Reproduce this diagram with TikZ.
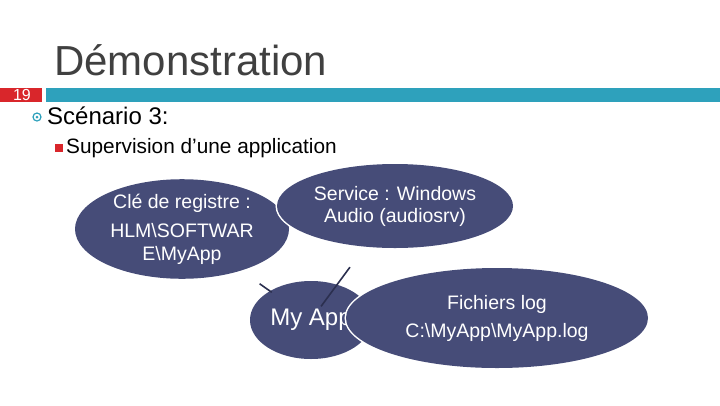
\documentclass[tikz,border=0pt]{standalone}
\usepackage{fontspec}
\setmainfont{Liberation Sans}
\usetikzlibrary{shapes.geometric,positioning}
\definecolor{titlegray}{HTML}{404040}
\definecolor{barteal}{HTML}{2EA1BC}
\definecolor{numred}{HTML}{D9262B}
\definecolor{bubblenavy}{HTML}{464C78}
\definecolor{linknavy}{HTML}{2B2F4F}
\newcommand{\fs}[2]{\fontsize{#1}{#2}\selectfont}
\tikzset{
  bubble/.style={ellipse,fill=bubblenavy,preaction={draw=white,line width=3pt},
    inner sep=0pt,text=white,align=center},
  link/.style={linknavy,line width=1.6pt}
}
\begin{document}
\begin{tikzpicture}[x=1pt,y=-1pt]
\useasboundingbox (0,0) rectangle (720,405);
% \draw[help lines,step=50] (0,0) grid (720,405);
\node (title) [anchor=base west,text=titlegray,inner sep=0pt,font=\fs{42}{48}] at (54,75) {Démonstration};
\node (numbox) [fill=numred,minimum width=42pt,minimum height=14pt,inner sep=0pt,anchor=north west] at (0,88) {};
\node (num) [text=white,font=\fs{16}{18},inner sep=0pt,anchor=base] at (22,100.5) {19};
\node (bar) [fill=barteal,minimum width=674pt,minimum height=14pt,inner sep=0pt,anchor=north west] at (46,88) {};
%
\node (dot) [circle,draw=barteal,line width=1.2pt,minimum size=8pt,inner sep=0pt] at (37,117) {};
\node (dotin) [circle,fill=barteal,minimum size=3pt,inner sep=0pt] at (dot.center) {};
\node (scenario) [anchor=base west,inner sep=0pt,font=\fs{24}{28}] at (47,124) {Scénario 3:};
\node (sq) [fill=numred,minimum size=8pt,inner sep=0pt] at (59,148) {};
\node (superv) [anchor=base west,inner sep=0pt,font=\fs{20.8}{24}] at (66,153) {Supervision d’une application};
%
\node (cle) [bubble,minimum width=214pt,minimum height=98pt,font=\fs{19.5}{23}] at (182,229)
  {Clé de registre :\\[6pt] HLM\textbackslash SOFTWAR\\ E\textbackslash MyApp};
\node (service) [bubble,minimum width=236pt,minimum height=84pt,font=\fs{19.5}{22}] at (395,206)
  {Service : Windows\\ Audio (audiosrv)};
\node (myapp) [bubble,minimum width=122pt,minimum height=78pt,font=\fs{24}{28}] at (311,320) {My App};
\node (logs) [bubble,minimum width=302pt,minimum height=100pt,font=\fs{19.5}{28}] at (497,318)
  {Fichiers log\\ C:\textbackslash MyApp\textbackslash MyApp.log};
%
\path[link,shorten <=17pt,shorten >=76pt] (myapp.center) edge (service.center);
\path[link,shorten <=48pt,shorten >=95pt] (myapp.center) edge (cle.center);
\end{tikzpicture}
\end{document}
